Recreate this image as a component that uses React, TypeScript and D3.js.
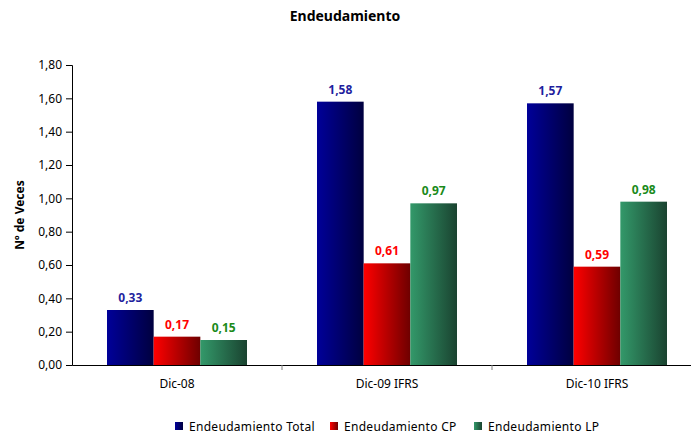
import React, { useEffect, useRef } from "react";
import * as d3 from "d3";

const categories = ["Dic-08", "Dic-09 IFRS", "Dic-10 IFRS"];
const seriesNames = ["Endeudamiento Total", "Endeudamiento CP", "Endeudamiento LP"];
const totalValues = [0.33, 1.58, 1.57];
const cpValues = [0.17, 0.61, 0.59];
const lpValues = [0.15, 0.97, 0.98];
const yTicks = [0, 0.2, 0.4, 0.6, 0.8, 1.0, 1.2, 1.4, 1.6, 1.8];

const gradients = [
  { id: "gTotal", from: "#000099", to: "#00003f", label: "#1f1f9e" },
  { id: "gCP", from: "#ff0000", to: "#6e0000", label: "#ff0000" },
  { id: "gLP", from: "#33996a", to: "#1a4330", label: "#1a8a1a" },
];

const fmt = (v: number) => d3.format(".2f")(v).replace(".", ",");

export default function App() {
  const ref = useRef<SVGSVGElement>(null);

  useEffect(() => {
    const height = 437;
    const margin = { top: 65, left: 72, bottom: 72 };
    const font = "'Noto Sans', 'DejaVu Sans', sans-serif";
    const svg = d3.select(ref.current);
    svg.html("");

    const defs = svg.append("defs");
    gradients.forEach((g) => {
      const lg = defs.append("linearGradient").attr("id", g.id)
        .attr("x1", "0").attr("x2", "1").attr("y1", "0").attr("y2", "0");
      lg.append("stop").attr("offset", "0").attr("stop-color", g.from);
      lg.append("stop").attr("offset", "1").attr("stop-color", g.to);
    });

    // plot area runs past the right edge, like the original
    const x0 = d3.scaleBand().domain(categories)
      .range([margin.left, margin.left + 630]).paddingInner(0).paddingOuter(0);
    const x1 = d3.scaleBand().domain(seriesNames)
      .range([0, x0.bandwidth()]).paddingOuter(0.75).paddingInner(0);
    const y = d3.scaleLinear().domain([0, 1.8]).range([height - margin.bottom, margin.top]);

    const series = [totalValues, cpValues, lpValues];

    // y axis
    const yAxis = svg.append("g")
      .attr("transform", `translate(${margin.left},0)`)
      .call(d3.axisLeft(y).tickValues(yTicks).tickSize(6).tickPadding(4).tickFormat((d) => fmt(+d)));
    yAxis.select(".domain").attr("stroke", "#000").attr("stroke-width", 1);
    yAxis.selectAll(".tick line").attr("stroke", "#000");
    yAxis.selectAll("text").attr("font-family", font).attr("font-size", 12).attr("fill", "#000");

    // bars
    series.forEach((vals, si) => {
      const g = svg.append("g");
      g.selectAll("rect").data(vals).join("rect")
        .attr("x", (_, i) => x0(categories[i])! + x1(seriesNames[si])!)
        .attr("y", (d) => y(d))
        .attr("width", x1.bandwidth())
        .attr("height", (d) => y(0) - y(d))
        .attr("fill", `url(#${gradients[si].id})`);
      g.selectAll("text").data(vals).join("text")
        .attr("x", (_, i) => x0(categories[i])! + x1(seriesNames[si])! + x1.bandwidth() / 2)
        .attr("y", (d) => y(d) - 8)
        .attr("text-anchor", "middle")
        .attr("font-family", font).attr("font-size", 12).attr("font-weight", "bold")
        .attr("fill", gradients[si].label)
        .text((d) => fmt(d));
    });

    // x axis
    const xAxis = svg.append("g")
      .attr("transform", `translate(0,${y(0)})`)
      .call(d3.axisBottom(x0).tickSize(0).tickPadding(14));
    xAxis.select(".domain").attr("stroke", "#000");
    xAxis.selectAll("text").attr("font-family", font).attr("font-size", 12).attr("fill", "#000");
    xAxis.selectAll("line.sep").data(categories.slice(1)).join("line")
      .attr("class", "sep")
      .attr("x1", (d) => x0(d)!).attr("x2", (d) => x0(d)!)
      .attr("y1", 0).attr("y2", 5).attr("stroke", "#808080");

    // title
    svg.append("text").attr("x", 345).attr("y", 21).attr("text-anchor", "middle")
      .attr("font-family", font).attr("font-size", 14).attr("font-weight", "bold")
      .text("Endeudamiento");

    // y label
    svg.append("text")
      .attr("transform", `translate(24,${(y(0) + y(1.8)) / 2}) rotate(-90)`)
      .attr("text-anchor", "middle")
      .attr("font-family", font).attr("font-size", 12).attr("font-weight", "bold")
      .text("Nº de Veces");

    // legend
    const legendX = [175, 330, 474];
    const leg = svg.append("g").attr("transform", "translate(0,427)");
    seriesNames.forEach((name, i) => {
      leg.append("rect").attr("x", legendX[i]).attr("y", -5).attr("width", 8).attr("height", 8)
        .attr("fill", `url(#${gradients[i].id})`);
      leg.append("text").attr("x", legendX[i] + 14).attr("y", 4)
        .attr("font-family", font).attr("font-size", 12).attr("letter-spacing", 0.3)
        .text(name);
    });
  }, []);

  return <svg ref={ref} width={691} height={437} style={{ display: "block", position: "absolute", left: 0, top: 0 }} />;
}
